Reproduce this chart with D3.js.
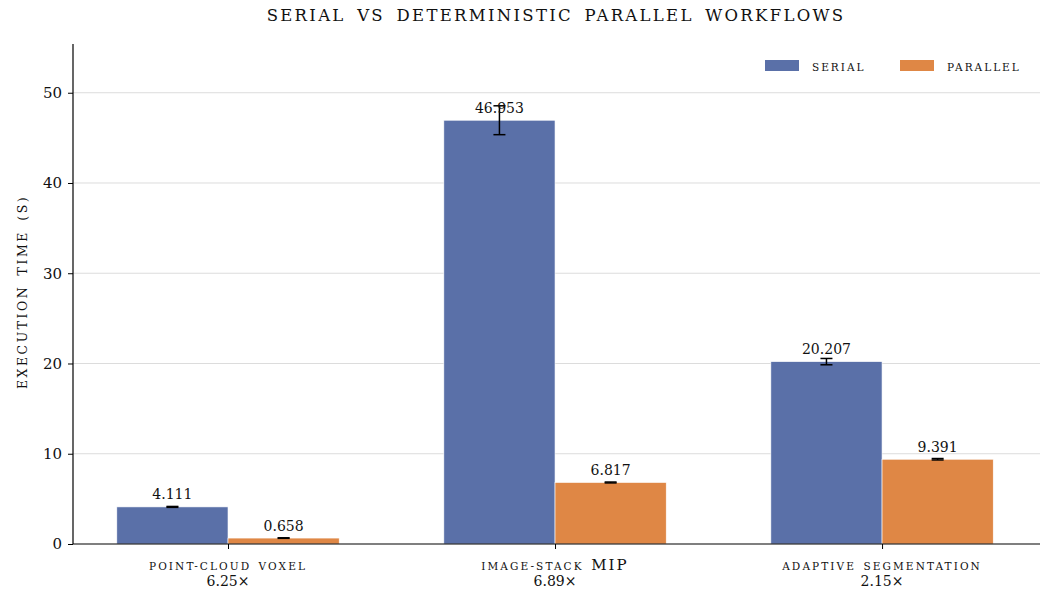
<!DOCTYPE html>
<html lang="en">
  <head>
    <meta charset="UTF-8" />
    <title>Serial vs deterministic parallel workflows</title>
    <style>
      body {
        margin: 0;
        background: #ffffff;
        font-family: "DejaVu Serif", serif;
      }
    </style>
  </head>
  <body>
    <div id="chart"></div>
    <script src="https://d3js.org/d3.v7.min.js"></script>
    <script>
      const categories = ["point-cloud voxel", "image-stack MIP", "adaptive segmentation"];
      const speedups = ["6.25×", "6.89×", "2.15×"];
      const serialValues = [4.111, 46.953, 20.207];
      const serialErrors = [0.05, 1.6, 0.35];
      const parallelValues = [0.658, 6.817, 9.391];
      const parallelErrors = [0.03, 0.05, 0.08];
      const yTicks = [0, 10, 20, 30, 40, 50];

      const width = 1048;
      const height = 597;
      const plotLeft = 73, plotRight = 1040, plotTop = 44, plotBottom = 544;

      const svg = d3
        .select("#chart")
        .append("svg")
        .attr("width", width)
        .attr("height", height);

      // fake small caps: lowercase runs drawn as capitals at a smaller size
      function smallCaps(textSel, str, small, full, ls, ws) {
        textSel
          .attr("letter-spacing", ls)
          .attr("word-spacing", ws)
          .attr("fill", "#111");
        str.match(/[A-Z]+|[^A-Z]+/g).forEach((run) => {
          const isUpper = /^[A-Z]+$/.test(run);
          textSel
            .append("tspan")
            .attr("font-size", isUpper ? full : small)
            .text(isUpper ? run : run.toUpperCase());
        });
        return textSel;
      }

      const x = d3.scaleLinear().domain([-0.474, 2.483]).range([plotLeft, plotRight]);
      const y = d3.scaleLinear().domain([0, 55.4]).range([plotBottom, plotTop]);
      const barW = 0.34;

      const series = [
        { name: "serial", values: serialValues, errors: serialErrors, color: "#5a70a8", offset: -barW / 2 },
        { name: "parallel", values: parallelValues, errors: parallelErrors, color: "#df8745", offset: barW / 2 },
      ];

      // grid
      svg
        .selectAll("line.grid")
        .data(yTicks.filter((d) => d > 0))
        .enter()
        .append("line")
        .attr("x1", plotLeft)
        .attr("x2", plotRight)
        .attr("y1", (d) => y(d))
        .attr("y2", (d) => y(d))
        .attr("stroke", "#dcdcdc")
        .attr("stroke-width", 1);

      // bars
      series.forEach((s) => {
        const g = svg.append("g");
        g.selectAll("rect")
          .data(s.values)
          .enter()
          .append("rect")
          .attr("x", (d, i) => x(i + s.offset - barW / 2))
          .attr("width", x(barW) - x(0))
          .attr("y", (d) => y(d))
          .attr("height", (d) => y(0) - y(d))
          .attr("fill", s.color)
          .attr("stroke", "#ffffff")
          .attr("stroke-width", 0.6);

        s.values.forEach((v, i) => {
          const cx = x(i + s.offset);
          const e = s.errors[i];
          g.append("line")
            .attr("x1", cx).attr("x2", cx)
            .attr("y1", y(v - e)).attr("y2", y(v + e))
            .attr("stroke", "#000").attr("stroke-width", 1.5);
          [v - e, v + e].forEach((w) => {
            g.append("line")
              .attr("x1", cx - 6).attr("x2", cx + 6)
              .attr("y1", y(w)).attr("y2", y(w))
              .attr("stroke", "#000").attr("stroke-width", 1.5);
          });
          g.append("text")
            .attr("x", cx)
            .attr("y", y(v) - 7.5)
            .attr("text-anchor", "middle")
            .attr("font-size", 14)
            .attr("fill", "#111")
            .text(v.toFixed(3));
        });
      });

      // y axis
      const yAxis = svg
        .append("g")
        .attr("transform", `translate(${plotLeft},0)`)
        .call(d3.axisLeft(y).tickValues(yTicks).tickSize(5).tickPadding(6));
      yAxis.select(".domain").attr("d", `M0,${plotTop}V${plotBottom}`).attr("stroke", "#000").attr("stroke-width", 1.2);
      yAxis.selectAll("text").attr("font-size", 15).attr("font-family", "DejaVu Serif, serif").attr("fill", "#111");

      // x axis
      const xAxis = svg
        .append("g")
        .attr("transform", `translate(0,${plotBottom})`)
        .call(d3.axisBottom(x).tickValues([0, 1, 2]).tickSize(5).tickFormat(""));
      xAxis.select(".domain").attr("d", `M${plotLeft},0H${plotRight}`).attr("stroke", "#000").attr("stroke-width", 1.2);

      categories.forEach((c, i) => {
        smallCaps(
          svg.append("text").attr("x", x(i)).attr("y", 570).attr("text-anchor", "middle"),
          c, 10.5, 15, 2.1, 2
        );
        svg.append("text")
          .attr("x", x(i))
          .attr("y", 586)
          .attr("text-anchor", "middle")
          .attr("font-size", 14)
          .attr("fill", "#111")
          .text(speedups[i]);
      });

      // y label
      smallCaps(
        svg.append("text")
          .attr("transform", `translate(27,${(plotTop + plotBottom) / 2 - 2}) rotate(-90)`)
          .attr("text-anchor", "middle"),
        "execution time (s)", 12.5, 15, 2.5, 3
      );

      // title
      smallCaps(
        svg.append("text").attr("x", 556).attr("y", 21).attr("text-anchor", "middle"),
        "serial vs deterministic parallel workflows", 16.5, 20, 2.3, 4
      );

      // legend
      const legend = svg.append("g");
      const legendX = [765, 900];
      series.forEach((s, i) => {
        legend.append("rect")
          .attr("x", legendX[i]).attr("y", 60)
          .attr("width", 34).attr("height", 11)
          .attr("fill", s.color);
        smallCaps(
          legend.append("text").attr("x", legendX[i] + 47).attr("y", 71),
          s.name, 10.5, 14, 2, 3
        );
      });
    </script>
  </body>
</html>
